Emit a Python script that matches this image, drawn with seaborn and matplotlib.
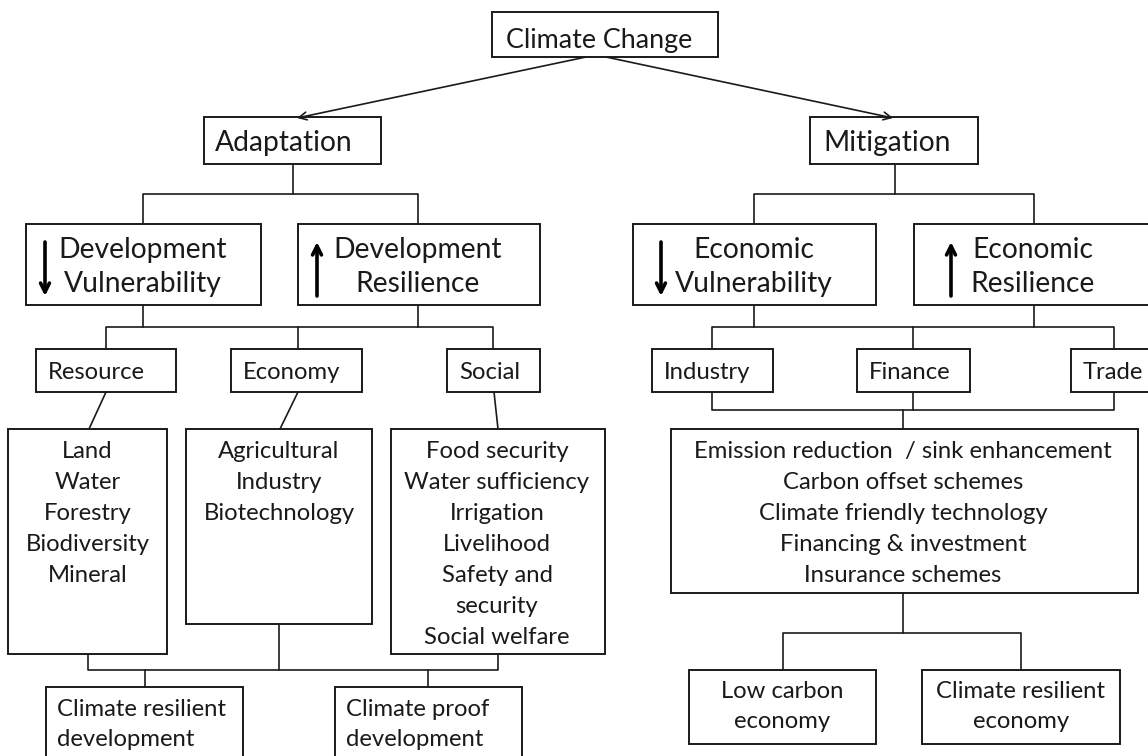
"""Flow chart: climate change adaptation and mitigation pathways."""

import matplotlib.pyplot as plt
import pandas as pd
import seaborn as sns
from matplotlib.patches import Rectangle

# ---- text content of the chart ----
root_label = "Climate Change"
branch_labels = ["Adaptation", "Mitigation"]
goal_labels = [
    ["Development", "Vulnerability"],
    ["Development", "Resilience"],
    ["Economic", "Vulnerability"],
    ["Economic", "Resilience"],
]
goal_directions = ["down", "up", "down", "up"]
adapt_sectors = ["Resource", "Economy", "Social"]
mitig_sectors = ["Industry", "Finance", "Trade"]
resource_items = ["Land", "Water", "Forestry", "Biodiversity", "Mineral"]
economy_items = ["Agricultural", "Industry", "Biotechnology"]
social_items = ["Food security", "Water sufficiency", "Irrigation", "Livelihood",
                "Safety and", "security", "Social welfare"]
mitigation_items = ["Emission reduction  / sink enhancement", "Carbon offset schemes",
                    "Climate friendly technology", "Financing & investment",
                    "Insurance schemes"]
adapt_outcomes = [["Climate resilient", "development"], ["Climate proof", "development"]]
mitig_outcomes = [["Low carbon", "economy"], ["Climate resilient", "economy"]]

# ---- layout (pixel space, y grows downwards) ----
W, H = 1148, 756
INK = "#1a1a1a"
BOX_LW = 1.4
LINE_LW = 1.2
BIG, MID, ROOT = 20.3, 17.2, 19.4

boxes = {
    "root": (492, 12, 718, 57),
    "adapt": (204, 117, 381, 164),
    "mitig": (810, 117, 978, 164),
    "goal0": (26, 224, 261, 305),
    "goal1": (298, 224, 540, 305),
    "goal2": (633, 224, 876, 305),
    "goal3": (914, 224, 1170, 305),
    "sec0": (36, 349, 176, 392),
    "sec1": (231, 349, 362, 392),
    "sec2": (447, 349, 540, 392),
    "sec3": (652, 349, 773, 392),
    "sec4": (857, 349, 970, 392),
    "sec5": (1071, 349, 1170, 392),
    "list0": (8, 429, 167, 654),
    "list1": (186, 429, 372, 624),
    "list2": (391, 429, 605, 654),
    "list3": (671, 429, 1138, 593),
    "out0": (46, 687, 243, 780),
    "out1": (335, 687, 522, 780),
    "out2": (689, 670, 876, 744),
    "out3": (922, 670, 1120, 744),
}

connectors = [
    [(293, 164), (293, 194)], [(143, 224), (143, 194), (418, 194), (418, 224)],
    [(895, 164), (895, 194)], [(754, 224), (754, 194), (1034, 194), (1034, 224)],
    [(143, 305), (143, 327)], [(418, 305), (418, 327)],
    [(106, 349), (106, 327), (493, 327), (493, 349)], [(298, 327), (298, 349)],
    [(754, 305), (754, 327)], [(1034, 305), (1034, 327)],
    [(712, 349), (712, 327), (1114, 327), (1114, 349)], [(913, 327), (913, 349)],
    [(106, 392), (89, 429)], [(298, 392), (280, 429)], [(494, 392), (498, 429)],
    [(712, 392), (712, 410), (1114, 410), (1114, 392)], [(913, 392), (913, 410)],
    [(903, 410), (903, 429)],
    [(88, 654), (88, 670), (498, 670), (498, 654)], [(279, 624), (279, 670)],
    [(145, 670), (145, 687)], [(428, 670), (428, 687)],
    [(903, 593), (903, 633)], [(783, 670), (783, 633), (1021, 633), (1021, 670)],
]

sns.set_theme(style="white")
plt.rcParams["font.family"] = ["Lato", "DejaVu Sans"]

fig = plt.figure(figsize=(W / 100, H / 100), dpi=100)
ax = fig.add_axes([0, 0, 1, 1])

# connector lines, drawn as one long table through seaborn
rows = []
for i, path in enumerate(connectors):
    for order, (x, y) in enumerate(path):
        rows.append({"seg": i, "order": order, "x": x, "y": y})
lines_df = pd.DataFrame(rows)
sns.lineplot(data=lines_df, x="x", y="y", units="seg", estimator=None, sort=False,
             color=INK, lw=LINE_LW, ax=ax, legend=False)
ax.set_xlim(0, W)
ax.set_ylim(H, 0)
ax.axis("off")

for key, (x0, y0, x1, y1) in boxes.items():
    ax.add_patch(Rectangle((x0, y0), x1 - x0, y1 - y0, fill=True, facecolor="white",
                           edgecolor=INK, lw=BOX_LW, zorder=3))


def centre_x(key):
    x0, _, x1, _ = boxes[key]
    return (x0 + x1) / 2


def put(x, y, s, size, ha="center"):
    # y is the text baseline
    ax.text(x, y, s, ha=ha, va="baseline", fontsize=size, color=INK, zorder=5)


# top level
put(599, 48, root_label, ROOT)
for start, end in [((586, 57), (297, 118)), ((606, 57), (893, 118))]:
    ax.annotate("", xy=end, xytext=start,
                arrowprops=dict(arrowstyle="->", color=INK, lw=1.2, shrinkA=0,
                                shrinkB=0, mutation_scale=14), zorder=4)
put(boxes["adapt"][0] + 11, 151, branch_labels[0], BIG, ha="left")
put(boxes["mitig"][0] + 13, 151, branch_labels[1], BIG, ha="left")

# goal boxes with up / down arrows
text_x = [143, 418, 754, 1033]
arrow_x = [45, 317, 661, 951]
for i, (lab, d) in enumerate(zip(goal_labels, goal_directions)):
    put(text_x[i], 258, lab[0], BIG)
    put(text_x[i], 292, lab[1], BIG)
    top, bot = (242, 296) if d == "down" else (296, 242)
    ax.annotate("", xy=(arrow_x[i], bot), xytext=(arrow_x[i], top),
                arrowprops=dict(arrowstyle="->", color="black", lw=2.6, shrinkA=0,
                                shrinkB=0, mutation_scale=16), zorder=5)

# sector boxes
for i, lab in enumerate(adapt_sectors + mitig_sectors):
    put(boxes[f"sec{i}"][0] + 12, 379, lab, MID, ha="left")

# item lists
list_x = [centre_x("list0"), centre_x("list1"), 497, 903]
for cx, items in zip(list_x, [resource_items, economy_items, social_items,
                              mitigation_items]):
    for j, item in enumerate(items):
        put(cx, 458 + j * 31, item, MID)

# outcomes
for i, lab in enumerate(adapt_outcomes):
    x0 = boxes[f"out{i}"][0]
    put(x0 + 11, 716, lab[0], MID, ha="left")
    put(x0 + 11, 746, lab[1], MID, ha="left")
for i, lab in enumerate(mitig_outcomes):
    cx = centre_x(f"out{i + 2}")
    put(cx, 698, lab[0], MID)
    put(cx, 728, lab[1], MID)

fig.savefig("out.png", dpi=100, facecolor="white")
